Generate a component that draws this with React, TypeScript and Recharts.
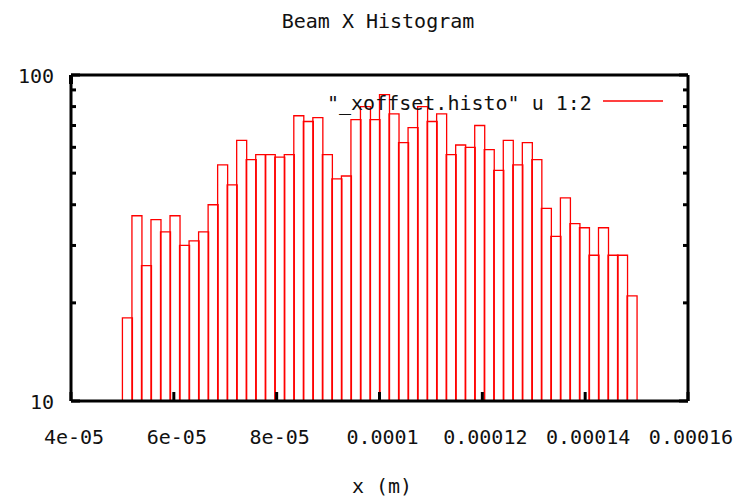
import { Bar, ComposedChart, XAxis, YAxis } from 'recharts';

// bin centres (m) and counts
const binCenters = [
  5.0926e-5, 5.2778e-5, 5.463e-5, 5.6481e-5, 5.8333e-5, 6.0185e-5, 6.2037e-5, 6.3889e-5, 6.5741e-5,
  6.7593e-5, 6.9444e-5, 7.1296e-5, 7.3148e-5, 7.5e-5, 7.6852e-5, 7.8704e-5, 8.0556e-5, 8.2407e-5,
  8.4259e-5, 8.6111e-5, 8.7963e-5, 8.9815e-5, 9.1667e-5, 9.3519e-5, 9.537e-5, 9.7222e-5, 9.9074e-5,
  10.0926e-5, 10.2778e-5, 10.463e-5, 10.6481e-5, 10.8333e-5, 11.0185e-5, 11.2037e-5, 11.3889e-5,
  11.5741e-5, 11.7593e-5, 11.9444e-5, 12.1296e-5, 12.3148e-5, 12.5e-5, 12.6852e-5, 12.8704e-5,
  13.0556e-5, 13.2407e-5, 13.4259e-5, 13.6111e-5, 13.7963e-5, 13.9815e-5, 14.1667e-5, 14.3519e-5,
  14.537e-5, 14.7222e-5, 14.9074e-5,
];
const counts = [
  18, 37, 26, 36, 33, 37, 30, 31, 33, 40, 53, 46, 63, 55, 57, 57, 56, 57, 75, 72, 74, 57, 48, 49, 73,
  80, 73, 87, 76, 62, 69, 80, 72, 76, 57, 61, 60, 70, 59, 51, 63, 53, 62, 55, 39, 32, 42, 35, 34, 28,
  34, 28, 28, 21,
];

const xTicks = [4e-5, 6e-5, 8e-5, 1e-4, 1.2e-4, 1.4e-4, 1.6e-4];
const xTickLabels = ['4e-05', '6e-05', '8e-05', '0.0001', '0.00012', '0.00014', '0.00016'];
const yTicks = [10, 20, 30, 40, 50, 60, 70, 80, 90, 100];
const yLabelled = [10, 100];

const data = binCenters.map((x, i) => ({ x, count: counts[i] }));

const FONT = '"DejaVu Sans Mono", monospace';
const TEXT = '#111';

function BottomTick({ x, y, index }: any) {
  return (
    <g>
      <line x1={x} y1={y} x2={x} y2={y - 9} stroke="#000" strokeWidth={3} />
      <text x={x + 3} y={y + 43} textAnchor="middle" fontFamily={FONT} fontSize={20} fill={TEXT}>
        {xTickLabels[index]}
      </text>
    </g>
  );
}

function TopTick({ x, y }: any) {
  return <line x1={x} y1={y} x2={x} y2={y + 9} stroke="#000" strokeWidth={3} />;
}

function LeftTick({ x, y, payload }: any) {
  const major = yLabelled.includes(payload.value);
  return (
    <g>
      <line x1={x} y1={y} x2={x + (major ? 9 : 5)} y2={y} stroke="#000" strokeWidth={3} />
      {major && (
        <text x={x - 17} y={y + 7.5} textAnchor="end" fontFamily={FONT} fontSize={20} fill={TEXT}>
          {payload.value}
        </text>
      )}
    </g>
  );
}

function RightTick({ x, y, payload }: any) {
  const major = yLabelled.includes(payload.value);
  return <line x1={x} y1={y} x2={x - (major ? 9 : 5)} y2={y} stroke="#000" strokeWidth={3} />;
}

const axisLine = { stroke: '#000', strokeWidth: 3 };

export default function App() {
  return (
    <div style={{ position: 'relative', width: 751, height: 501, background: '#fff' }}>
      <style>{'body{margin:0}'}</style>
      <ComposedChart
        width={751}
        height={501}
        data={data}
        margin={{ top: 74, right: 62, bottom: 99, left: 70 }}
        barCategoryGap={0}
        barGap={0}
      >
        <XAxis
          dataKey="x"
          type="number"
          domain={[4e-5, 1.6e-4]}
          ticks={xTicks}
          interval={0}
          allowDataOverflow
          height={1}
          tickSize={0}
          tickMargin={0}
          tickLine={false}
          axisLine={axisLine}
          tick={BottomTick}
        />
        <XAxis
          xAxisId="top"
          orientation="top"
          type="number"
          domain={[4e-5, 1.6e-4]}
          ticks={xTicks}
          interval={0}
          allowDataOverflow
          height={1}
          tickSize={0}
          tickMargin={0}
          tickLine={false}
          axisLine={axisLine}
          tick={TopTick}
        />
        <YAxis
          type="number"
          scale="log"
          domain={[10, 100]}
          ticks={yTicks}
          interval={0}
          allowDataOverflow
          width={1}
          tickSize={0}
          tickMargin={0}
          tickLine={false}
          axisLine={axisLine}
          tick={LeftTick}
        />
        <YAxis
          yAxisId="right"
          orientation="right"
          type="number"
          scale="log"
          domain={[10, 100]}
          ticks={yTicks}
          interval={0}
          allowDataOverflow
          width={1}
          tickSize={0}
          tickMargin={0}
          tickLine={false}
          axisLine={axisLine}
          tick={RightTick}
        />
        <Bar dataKey="count" fill="none" stroke="#ff0000" strokeWidth={1.3} isAnimationActive={false} />
      </ComposedChart>
      <svg
        width={751}
        height={501}
        style={{ position: 'absolute', left: 0, top: 0, pointerEvents: 'none' }}
      >
        <text x={378} y={28} textAnchor="middle" fontFamily={FONT} fontSize={20} fill={TEXT}>
          Beam X Histogram
        </text>
        <text x={327} y={109.5} fontFamily={FONT} fontSize={20} fill={TEXT}>
          "_xoffset.histo" u 1:2
        </text>
        <line x1={603} y1={101} x2={663} y2={101} stroke="#ff0000" strokeWidth={1.5} />
        <text x={382} y={493} textAnchor="middle" fontFamily={FONT} fontSize={20} fill={TEXT}>
          x (m)
        </text>
      </svg>
    </div>
  );
}
